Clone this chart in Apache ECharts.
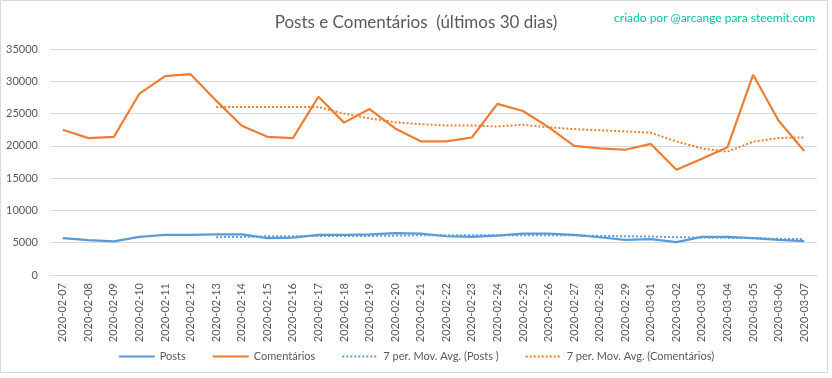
<!DOCTYPE html>
<html>
<head>
<meta charset="utf-8">
<script src="https://cdn.jsdelivr.net/npm/echarts@6/dist/echarts.min.js"></script>
<style>
  html, body { margin: 0; padding: 0; background: #fff; }
  #chart { width: 832px; height: 378px; }
</style>
</head>
<body>
<div id="chart"></div>
<script>
// datas dos últimos 30 dias
const dates = [
  '2020-02-07', '2020-02-08', '2020-02-09', '2020-02-10', '2020-02-11', '2020-02-12',
  '2020-02-13', '2020-02-14', '2020-02-15', '2020-02-16', '2020-02-17', '2020-02-18',
  '2020-02-19', '2020-02-20', '2020-02-21', '2020-02-22', '2020-02-23', '2020-02-24',
  '2020-02-25', '2020-02-26', '2020-02-27', '2020-02-28', '2020-02-29', '2020-03-01',
  '2020-03-02', '2020-03-03', '2020-03-04', '2020-03-05', '2020-03-06', '2020-03-07'
]
// valores
const posts = [
  5700, 5400, 5200, 5900, 6200, 6200, 6300, 6300, 5700, 5800, 6200, 6200,
  6300, 6500, 6400, 6000, 5900, 6100, 6400, 6400, 6200, 5850, 5450, 5550,
  5100, 5900, 5900, 5700, 5450, 5250
]
const comentarios = [
  22500, 21200, 21400, 28100, 30800, 31100, 27000, 23100, 21400, 21200, 27600, 23600,
  25700, 22700, 20700, 20700, 21300, 26500, 25400, 22900, 20000, 19600, 19400, 20300,
  16300, 18000, 19800, 31000, 23900, 19200
]
// médias móveis de 7 períodos (começam no 7º dia)
const postsAvg = [
  null, null, null, null, null, null, 5850, 5900, 6000, 6000, 6050, 6050,
  6050, 6100, 6150, 6150, 6150, 6150, 6150, 6150, 6150, 6050, 6000, 5950,
  5850, 5800, 5750, 5700, 5600, 5550
]
const comentariosAvg = [
  null, null, null, null, null, null, 26000, 26000, 26000, 26000, 26000, 25000,
  24250, 23650, 23350, 23170, 23150, 23000, 23280, 22870, 22600, 22400, 22240, 22030,
  20690, 19600, 19100, 20640, 21210, 21310
]
const yTicks = { min: 0, max: 35000, interval: 5000 }

const chart = echarts.init(document.getElementById('chart'))
const font = 'Lato, "Open Sans", sans-serif'
const axisColor = '#595959'

chart.setOption({
  animation: false,
  textStyle: { fontFamily: font },
  title: [
    {
      text: 'Posts e Comentários  (últimos 30 dias)',
      left: 'center',
      top: 9,
      textStyle: { fontFamily: font, fontSize: 17, fontWeight: 'normal', color: '#595959' }
    },
    {
      text: 'criado por @arcange para steemit.com',
      right: 12,
      top: 7,
      textStyle: { fontFamily: font, fontSize: 12, fontWeight: 'normal', color: '#00c8a0' }
    }
  ],
  graphic: [{
    type: 'rect',
    shape: { x: 0.5, y: 0.5, width: 827, height: 372 },
    style: { fill: 'none', stroke: '#d9d9d9', lineWidth: 1 },
    silent: true
  }],
  grid: { left: 50, right: 15, top: 49, bottom: 103 },
  legend: {
    bottom: 11,
    left: 'center',
    itemWidth: 36,
    itemHeight: 10,
    itemGap: 26,
    itemStyle: { opacity: 0 },
    textStyle: { fontFamily: font, fontSize: 11, color: axisColor },
    data: ['Posts', 'Comentários', '7 per. Mov. Avg. (Posts )', '7 per. Mov. Avg. (Comentários)']
  },
  xAxis: {
    type: 'category',
    data: dates,
    boundaryGap: true,
    axisLine: { lineStyle: { color: '#d9d9d9' } },
    axisTick: { show: false },
    axisLabel: { rotate: 90, interval: 0, color: axisColor, fontSize: 11, margin: 8, fontFamily: font }
  },
  yAxis: {
    type: 'value',
    min: yTicks.min,
    max: yTicks.max,
    interval: yTicks.interval,
    axisLine: { show: false },
    axisTick: { show: false },
    axisLabel: { color: axisColor, fontSize: 11, margin: 12, fontFamily: font, formatter: v => String(v) },
    splitLine: { lineStyle: { color: '#d9d9d9' } }
  },
  series: [
    {
      name: 'Posts',
      type: 'line',
      data: posts,
      symbol: 'none',
      lineStyle: { color: '#5b9bd5', width: 2.2 },
      itemStyle: { color: '#5b9bd5' }
    },
    {
      name: 'Comentários',
      type: 'line',
      data: comentarios,
      symbol: 'none',
      lineStyle: { color: '#ed7d31', width: 2.2 },
      itemStyle: { color: '#ed7d31' }
    },
    {
      name: '7 per. Mov. Avg. (Posts )',
      type: 'line',
      data: postsAvg,
      symbol: 'none',
      lineStyle: { color: '#5b9bd5', width: 2, type: [2, 2] },
      itemStyle: { color: '#5b9bd5' }
    },
    {
      name: '7 per. Mov. Avg. (Comentários)',
      type: 'line',
      data: comentariosAvg,
      symbol: 'none',
      lineStyle: { color: '#ed7d31', width: 2, type: [2, 2] },
      itemStyle: { color: '#ed7d31' }
    }
  ]
})
</script>
</body>
</html>
